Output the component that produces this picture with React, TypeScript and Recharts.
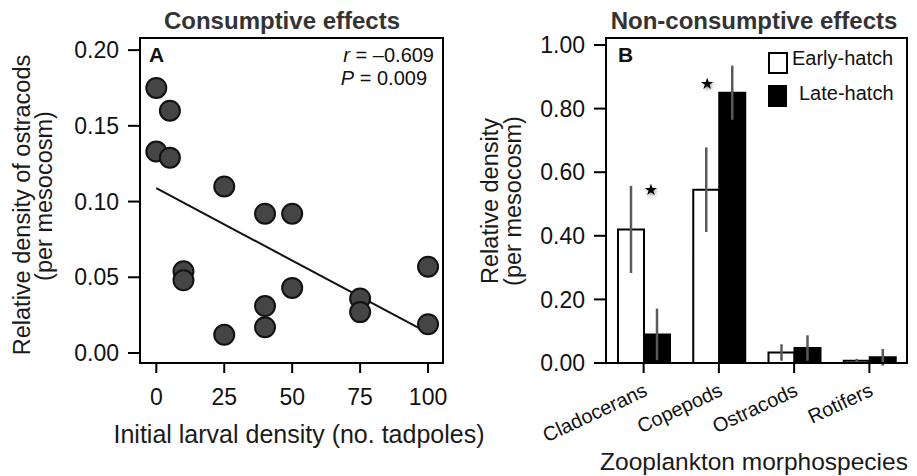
import React from 'react';
import {
  ComposedChart,
  Scatter,
  Line,
  XAxis,
  YAxis,
  Bar,
  ErrorBar,
  LabelList,
  Legend,
  ReferenceLine,
} from 'recharts';

// ---------- Panel A data ----------
const densityX = [0, 5, 0, 5, 25, 40, 50, 10, 10, 50, 40, 40, 25, 75, 75, 100, 100];
const ostracodY = [0.175, 0.16, 0.133, 0.129, 0.11, 0.092, 0.092, 0.054, 0.048, 0.043, 0.031, 0.017, 0.012, 0.036, 0.027, 0.057, 0.019];
const fitX = [0, 100];
const fitY = [0.1088, 0.0133];
const xTicksA = [0, 25, 50, 75, 100];
const yTicksA = [0, 0.05, 0.1, 0.15, 0.2];
const xDomainA = [-6, 105.5];
const yDomainA = [-0.0066, 0.208];

// ---------- Panel B data ----------
const groups = ['Cladocerans', 'Copepods', 'Ostracods', 'Rotifers'];
const earlyMean = [0.42, 0.545, 0.033, 0.007];
const lateMean = [0.09, 0.85, 0.047, 0.018];
const earlyErr = [0.137, 0.133, 0.026, 0.006];
const lateErr = [0.081, 0.085, 0.04, 0.026];
const earlyStar: (number | null)[] = [null, 0.88, null, null];
const lateStar: (number | null)[] = [0.547, null, null, null];
const yTicksB = [0, 0.2, 0.4, 0.6, 0.8, 1.0];
const yDomainB = [0, 1.022];

const points = densityX.map((x, i) => ({ x, y: ostracodY[i] }));
const fitData = fitX.map((x, i) => ({ x, y: fitY[i] }));
const barData = groups.map((name, i) => ({
  name,
  early: earlyMean[i],
  late: lateMean[i],
  earlyErr: earlyErr[i],
  lateErr: lateErr[i],
  earlyStar: earlyStar[i],
  lateStar: lateStar[i],
}));

const FONT = '"Liberation Sans", Arial, Helvetica, sans-serif';
const frameLine = { stroke: '#000', strokeWidth: 2 };

// layout of each panel (plot-area box = margins + axis sizes)
const layoutA = { left: 0, w: 500, h: 476, top: 38, right: 57, yAxisW: 140, xAxisH: 113 };
const layoutB = { left: 460, w: 457, h: 476, top: 38, right: 10, yAxisW: 146, xAxisH: 113 };

const Dot = (p: any) => (
  <circle cx={p.cx} cy={p.cy} r={10} fill="#454545" stroke="#111" strokeWidth={2} />
);

const makeStar = (values: number[], dx: number) => (props: any) => {
  const { x, y, width, height, value, index } = props;
  if (value === null || value === undefined || x === undefined) return null;
  const base = Number(y) + Number(height);
  const pxPerUnit = Number(height) / values[index];
  const sy = base - Number(value) * pxPerUnit;
  return (
    <text
      x={Number(x) + Number(width) / 2 + dx}
      y={sy}
      textAnchor="middle"
      dominantBaseline="central"
      fontSize={16}
      fontFamily='"DejaVu Sans", sans-serif'
      fill="#000"
      style={{ filter: 'drop-shadow(1px 2px 1.5px rgba(0,0,0,0.35))' }}
    >
      ★
    </text>
  );
};

const RotTick = (props: any) => {
  const { x, y, payload } = props;
  const ax = x + 5;
  const ay = y + 22;
  return (
    <text
      x={ax}
      y={ay}
      textAnchor="end"
      fontSize={20}
      fill="#111"
      transform={`rotate(-25, ${ax}, ${ay})`}
    >
      {payload.value}
    </text>
  );
};

const renderLegend = (props: any) => {
  const payload = props.payload || [];
  return (
    <div style={{ position: 'relative', width: 0, height: 0, fontFamily: FONT }}>
      {payload.map((entry: any, i: number) => {
        const top = 51.5 + i * 33.5;
        const fill = entry.color || (entry.payload && entry.payload.fill) || '#000';
        return (
          <React.Fragment key={i}>
            <div
              style={{
                position: 'absolute',
                left: 308,
                top,
                width: 20 - i,
                height: 22,
                boxSizing: 'border-box',
                border: '2px solid #000',
                background: fill,
              }}
            />
            <div
              style={{
                position: 'absolute',
                left: 332 + i * 7,
                top: top - 3.5 + i,
                fontSize: 20,
                lineHeight: '20px',
                whiteSpace: 'nowrap',
                color: '#111',
              }}
            >
              {entry.value}
            </div>
          </React.Fragment>
        );
      })}
    </div>
  );
};

// box drawn around the plotting area of a panel
const FrameBox = ({ l }: { l: typeof layoutA }) => (
  <div
    style={{
      position: 'absolute',
      zIndex: 5,
      left: l.left + l.yAxisW - 1,
      top: l.top - 1,
      width: l.w - l.yAxisW - l.right + 2,
      height: l.h - l.top - l.xAxisH + 2,
      boxSizing: 'border-box',
      border: '2px solid #000',
      pointerEvents: 'none',
    }}
  />
);

export default function App() {
  return (
    <div
      style={{
        position: 'absolute',
        left: 0,
        top: 0,
        width: 917,
        height: 476,
        background: '#fff',
        fontFamily: FONT,
      }}
    >
      {/* Panel A */}
      <div style={{ position: 'absolute', left: layoutA.left, top: 0 }}>
        <ComposedChart
          width={layoutA.w}
          height={layoutA.h}
          margin={{ top: layoutA.top, right: layoutA.right, bottom: 0, left: 0 }}
        >
          <XAxis
            type="number"
            dataKey="x"
            domain={xDomainA}
            ticks={xTicksA}
            allowDataOverflow
            height={layoutA.xAxisH}
            tickSize={10}
            tickMargin={16}
            axisLine={frameLine}
            tickLine={frameLine}
            tick={{ fontSize: 23, fill: '#111' }}
          />
          <YAxis
            type="number"
            dataKey="y"
            domain={yDomainA}
            ticks={yTicksA}
            allowDataOverflow
            width={layoutA.yAxisW}
            tickSize={12}
            tickMargin={9}
            axisLine={frameLine}
            tickLine={frameLine}
            tick={{ fontSize: 23, fill: '#111' }}
            tickFormatter={(v: number) => v.toFixed(2)}
          />
          <ReferenceLine y={yDomainA[1]} stroke="#000" strokeWidth={2} ifOverflow="visible" />
          <ReferenceLine x={xDomainA[1]} stroke="#000" strokeWidth={2} ifOverflow="visible" />
          <Line
            data={fitData}
            dataKey="y"
            type="linear"
            stroke="#111"
            strokeWidth={2}
            dot={false}
            activeDot={false}
            isAnimationActive={false}
          />
          <Scatter data={points} dataKey="y" shape={Dot} isAnimationActive={false} />
          <text x={282} y={29} textAnchor="middle" fontSize={24} fontWeight="bold" fill="#333">
            Consumptive effects
          </text>
          <text x={149} y={62} fontSize={21} fontWeight="bold" fill="#111">
            A
          </text>
          <text x={434} y={62} textAnchor="end" fontSize={20} fill="#111">
            <tspan fontStyle="italic">r</tspan> = –0.609
          </text>
          <text x={427} y={85} textAnchor="end" fontSize={20} fill="#111">
            <tspan fontStyle="italic">P</tspan> = 0.009
          </text>
          <text
            x={30}
            y={205}
            textAnchor="middle"
            fontSize={23.5}
            fill="#1a1a1a"
            transform="rotate(-90, 30, 205)"
          >
            Relative density of ostracods
          </text>
          <text
            x={52}
            y={196}
            textAnchor="middle"
            fontSize={23.5}
            fill="#1a1a1a"
            transform="rotate(-90, 52, 196)"
          >
            (per mesocosm)
          </text>
          <text x={299} y={443} textAnchor="middle" fontSize={25} fill="#1a1a1a">
            Initial larval density (no. tadpoles)
          </text>
        </ComposedChart>
      </div>

      {/* Panel B */}
      <div style={{ position: 'absolute', left: layoutB.left, top: 0 }}>
        <ComposedChart
          width={layoutB.w}
          height={layoutB.h}
          data={barData}
          margin={{ top: layoutB.top, right: layoutB.right, bottom: 0, left: 0 }}
          barGap={0}
        >
          <XAxis
            dataKey="name"
            type="category"
            interval={0}
            height={layoutB.xAxisH}
            tickSize={10}
            tickMargin={0}
            axisLine={frameLine}
            tickLine={frameLine}
            tick={<RotTick />}
          />
          <YAxis
            type="number"
            domain={yDomainB}
            ticks={yTicksB}
            allowDataOverflow
            width={layoutB.yAxisW}
            tickSize={12}
            tickMargin={9}
            axisLine={frameLine}
            tickLine={frameLine}
            tick={{ fontSize: 23, fill: '#111' }}
            tickFormatter={(v: number) => v.toFixed(2)}
          />
          <ReferenceLine y={yDomainB[1]} stroke="#000" strokeWidth={2} ifOverflow="visible" />
          <Legend
            layout="vertical"
            align="center"
            verticalAlign="middle"
            content={renderLegend}
            wrapperStyle={{ top: 0, left: 0, width: 0, height: 0 }}
          />
          <Bar
            dataKey="early"
            name="Early-hatch"
            fill="#fff"
            stroke="#000"
            strokeWidth={2}
            barSize={26}
            isAnimationActive={false}
          >
            <ErrorBar dataKey="earlyErr" width={0} stroke="#5a5a5a" strokeWidth={2.5} direction="y" />
            <LabelList dataKey="earlyStar" content={makeStar(earlyMean, 1)} />
          </Bar>
          <Bar
            dataKey="late"
            name="Late-hatch"
            fill="#000"
            stroke="#000"
            strokeWidth={2}
            barSize={26}
            isAnimationActive={false}
          >
            <ErrorBar dataKey="lateErr" width={0} stroke="#5a5a5a" strokeWidth={2.5} direction="y" />
            <LabelList dataKey="lateStar" content={makeStar(lateMean, -6)} />
          </Bar>
          <text x={294} y={29} textAnchor="middle" fontSize={24} fontWeight="bold" fill="#333">
            Non-consumptive effects
          </text>
          <text x={158} y={62} fontSize={21} fontWeight="bold" fill="#111">
            B
          </text>
          <text
            x={38}
            y={201}
            textAnchor="middle"
            fontSize={23.5}
            fill="#1a1a1a"
            transform="rotate(-90, 38, 201)"
          >
            Relative density
          </text>
          <text
            x={61}
            y={201}
            textAnchor="middle"
            fontSize={23.5}
            fill="#1a1a1a"
            transform="rotate(-90, 61, 201)"
          >
            (per mesocosm)
          </text>
          <text x={294} y={470} textAnchor="middle" fontSize={24.5} fill="#1a1a1a">
            Zooplankton morphospecies
          </text>
        </ComposedChart>
      </div>

      <FrameBox l={layoutA} />
      <FrameBox l={layoutB} />
    </div>
  );
}
